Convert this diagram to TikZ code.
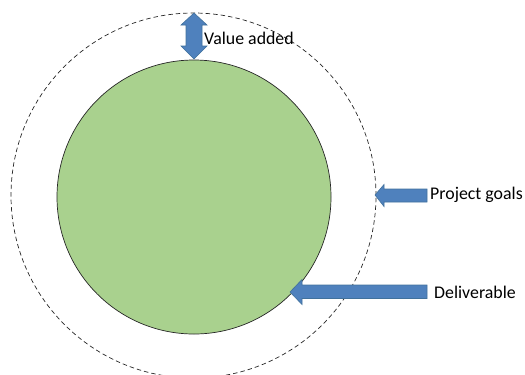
\documentclass[tikz,border=0pt]{standalone}
\usepackage{fontspec}
\setmainfont{Carlito}
\definecolor{arrowblue}{HTML}{4F81BD}
\definecolor{arrowedge}{HTML}{41719C}
\definecolor{discgreen}{HTML}{A9D18E}
\begin{document}
\begin{tikzpicture}[x=1bp,y=-1bp,
  blockarrow/.style={fill=arrowblue,draw=arrowedge,line width=0.6bp,line join=miter},
  lbl/.style={anchor=west,inner sep=0pt,font=\fontsize{17.9}{20}\selectfont}]
\useasboundingbox (0,0) rectangle (525,374);
\clip (0,0) rectangle (525,374);
% outer dashed boundary (project goals)
\node (goals) [circle,draw=black!85,line width=0.7bp,dash pattern=on 4.5bp off 3bp,minimum size=365bp,inner sep=0pt] at (193.5,195.5) {};
% deliverable disc
\node (deliv) [circle,fill=discgreen,draw=black!85,line width=0.7bp,minimum size=274bp,inner sep=0pt] at (194,197) {};
% value added double arrow
\draw[blockarrow] (194,13) -- (207,25) -- (202,25) -- (202,46) -- (207,46) -- (194,59)
  -- (181,46) -- (186,46) -- (186,25) -- (181,25) -- cycle;
\node (va) [lbl] at (204,38) {Value added};
% project goals arrow
\draw[blockarrow] (375,195) -- (384,184.5) -- (384,189) -- (427,189) -- (427,202) -- (384,202) -- (384,206.5) -- cycle;
\node (pg) [lbl] at (430,194.5) {Project goals};
% deliverable arrow
\draw[blockarrow] (290,292) -- (302,279.5) -- (302,285) -- (427,285) -- (427,298.5) -- (302,298.5) -- (302,304.5) -- cycle;
\node (dl) [lbl] at (434,292) {Deliverable};
\end{tikzpicture}
\end{document}
